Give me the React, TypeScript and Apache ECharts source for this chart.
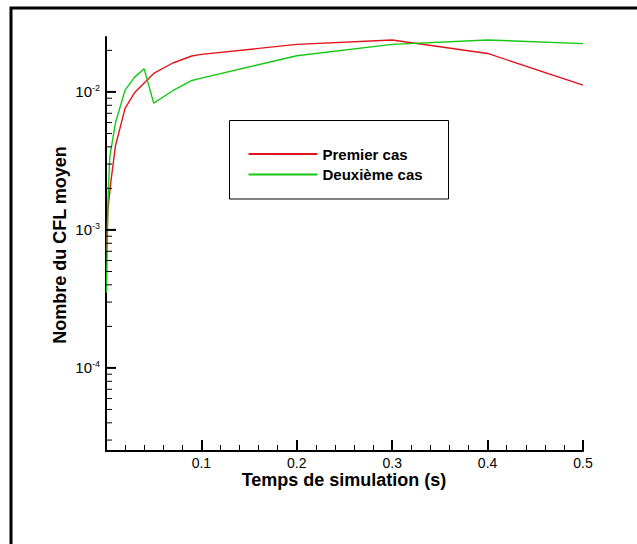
import React, { useEffect, useRef } from "react";
import * as echarts from "echarts";

const seriesNames = ["Premier cas", "Deuxième cas"];

const premierT = [0.0005, 0.002, 0.005, 0.01, 0.02, 0.03, 0.05, 0.07, 0.09, 0.1, 0.2, 0.3, 0.4, 0.5];
const premierV = [7e-4, 1.4e-3, 2.2e-3, 4.1e-3, 7.6e-3, 9.9e-3, 1.36e-2, 1.62e-2, 1.82e-2, 1.87e-2, 2.21e-2, 2.38e-2, 1.9e-2, 1.12e-2];

const deuxiemeT = [0.0005, 0.002, 0.004, 0.01, 0.02, 0.03, 0.04, 0.05, 0.07, 0.09, 0.1, 0.2, 0.3, 0.4, 0.5];
const deuxiemeV = [3.5e-4, 1.6e-3, 3.4e-3, 6.0e-3, 1.03e-2, 1.28e-2, 1.47e-2, 8.3e-3, 1.02e-2, 1.21e-2, 1.26e-2, 1.83e-2, 2.21e-2, 2.38e-2, 2.24e-2];

const yTickValues = [
  3e-5, 4e-5, 5e-5, 6e-5, 7e-5, 8e-5, 9e-5, 1e-4,
  2e-4, 3e-4, 4e-4, 5e-4, 6e-4, 7e-4, 8e-4, 9e-4, 1e-3,
  2e-3, 3e-3, 4e-3, 5e-3, 6e-3, 7e-3, 8e-3, 9e-3, 1e-2,
  2e-2,
];

const xTitle = "Temps de simulation (s)";
const yTitle = "Nombre du CFL moyen";

const FONT = "'Liberation Sans', Arial, Helvetica, sans-serif";
const RED = "#e3131b";
const GREEN = "#14c814";
const GRID = { left: 106, top: 37, right: 54, bottom: 93 };
const X_MIN = 0;
const X_MAX = 0.5;
const Y_MIN = 2.5e-5;
const Y_MAX = 0.025;

function isPow10(v: number) {
  const e = Math.log10(v);
  return Math.abs(e - Math.round(e)) < 1e-6;
}

function mainOption(): any {
  return {
    animation: false,
    grid: GRID,
    xAxis: {
      type: "value",
      min: X_MIN,
      max: X_MAX,
      interval: 0.1,
      axisLine: { show: true, onZero: false, lineStyle: { color: "#000", width: 2 } },
      axisTick: { show: true, inside: true, length: 11, lineStyle: { color: "#000", width: 2 } },
      minorTick: { show: true, splitNumber: 5, length: 6, lineStyle: { color: "#000", width: 1 } },
      splitLine: { show: false },
      axisLabel: {
        margin: 5,
        color: "#000",
        fontFamily: FONT,
        fontSize: 14,
        formatter: (v: number) => (v === 0 ? "" : v.toFixed(1)),
      },
    },
    yAxis: {
      type: "log",
      min: Y_MIN,
      max: Y_MAX,
      axisLine: { show: true, lineStyle: { color: "#000", width: 2 } },
      axisTick: { show: false },
      splitLine: { show: false },
      axisLabel: {
        margin: 6,
        color: "#000",
        fontFamily: FONT,
        formatter: (v: number) => (isPow10(v) ? "{b|10}{s|" + Math.round(Math.log10(v)) + "}" : ""),
        rich: {
          b: { fontSize: 15, fontFamily: FONT, color: "#000" },
          s: { fontSize: 9, fontFamily: FONT, color: "#000", verticalAlign: "top", padding: [0, 0, 8, 0] },
        },
      },
    },
    legend: {
      orient: "vertical",
      left: 247.5,
      top: 146.5,
      padding: 0,
      itemWidth: 69,
      itemHeight: 14,
      itemGap: 5.5,
      itemStyle: { opacity: 0 },
      textStyle: { fontFamily: FONT, fontSize: 15, fontWeight: "bold", color: "#000" },
      data: seriesNames,
    },
    graphic: [
      {
        type: "polyline",
        shape: { points: [[11, 560], [11, 8], [650, 8]] },
        style: { fill: null, stroke: "#000", lineWidth: 3 },
        silent: true,
      },
      {
        type: "polyline",
        shape: { points: [[229.5, 120.5], [448.5, 120.5], [448.5, 199], [229.5, 199], [229.5, 120.5]] },
        style: { fill: null, stroke: "#000", lineWidth: 1 },
        silent: true,
      },
      {
        type: "text",
        x: 344,
        y: 480,
        style: {
          text: xTitle,
          fontFamily: FONT,
          fontSize: 18,
          fontWeight: "bold",
          fill: "#000",
          textAlign: "center",
          textVerticalAlign: "middle",
        },
      },
      {
        type: "text",
        x: 60,
        y: 245,
        rotation: Math.PI / 2,
        style: {
          text: yTitle,
          fontFamily: FONT,
          fontSize: 18,
          fontWeight: "bold",
          fill: "#000",
          textAlign: "center",
          textVerticalAlign: "middle",
        },
      },
    ],
    series: [
      {
        name: seriesNames[0],
        type: "line",
        symbol: "none",
        lineStyle: { color: RED, width: 1.4 },
        itemStyle: { color: RED },
        data: premierT.map((t, i) => [t, premierV[i]]),
      },
      {
        name: seriesNames[1],
        type: "line",
        symbol: "none",
        lineStyle: { color: GREEN, width: 1.4 },
        itemStyle: { color: GREEN },
        data: deuxiemeT.map((t, i) => [t, deuxiemeV[i]]),
      },
    ],
  };
}

function tickOption(): any {
  return {
    animation: false,
    grid: GRID,
    xAxis: {
      type: "value",
      min: X_MIN,
      max: X_MAX,
      interval: 0.1,
      axisLine: { show: false, onZero: false },
      axisTick: { show: true, inside: true, length: 11, lineStyle: { color: "#000", width: 2 } },
      minorTick: { show: true, splitNumber: 5, length: 6, lineStyle: { color: "#000", width: 1 } },
      splitLine: { show: false },
      axisLabel: { show: false },
    },
    yAxis: {
      type: "log",
      min: Y_MIN,
      max: Y_MAX,
      axisLine: { show: false },
      axisTick: { show: false },
      splitLine: { show: false },
      axisLabel: { show: false },
    },
    series: [
      {
        type: "custom",
        data: yTickValues.map((v) => [0.25, v]),
        renderItem: (params: any, api: any) => {
          const v = api.value(1);
          const p = api.coord([X_MIN, v]);
          const major = isPow10(v);
          return {
            type: "line",
            shape: { x1: p[0], y1: p[1], x2: p[0] + (major ? 10 : 6), y2: p[1] },
            style: { stroke: "#000", lineWidth: major ? 2 : 1 },
          };
        },
      },
    ],
  };
}

export default function App() {
  const mainRef = useRef<HTMLDivElement>(null);
  const tickRef = useRef<HTMLDivElement>(null);
  useEffect(() => {
    document.body.style.margin = "0";
    const main = echarts.init(mainRef.current!, null, { renderer: "svg" });
    const ticks = echarts.init(tickRef.current!, null, { renderer: "svg" });
    try {
      main.setOption(mainOption());
    } catch (e) {
      // keep what was drawn
    }
    try {
      ticks.setOption(tickOption());
    } catch (e) {
      // keep what was drawn
    }
    return () => {
      main.dispose();
      ticks.dispose();
    };
  }, []);
  return (
    <div style={{ position: "relative", width: 637, height: 544 }}>
      <div ref={mainRef} style={{ position: "absolute", left: 0, top: 0, width: 637, height: 544 }} />
      <div ref={tickRef} style={{ position: "absolute", left: 0, top: 0, width: 637, height: 544, pointerEvents: "none" }} />
    </div>
  );
}
